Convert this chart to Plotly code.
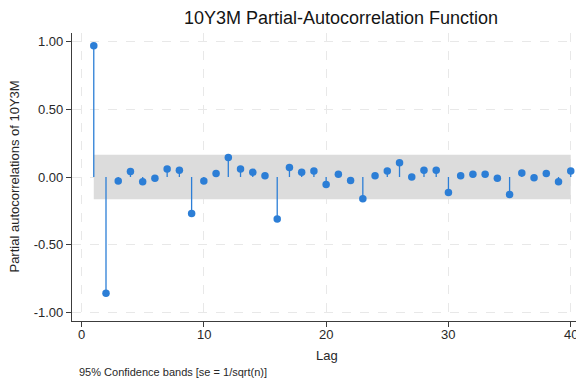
import plotly.graph_objects as go

# Data
lags = list(range(1, 41))
pacf = [0.97, -0.86, -0.03, 0.04, -0.035, -0.01, 0.06, 0.05, -0.27, -0.03,
        0.025, 0.145, 0.06, 0.035, 0.01, -0.31, 0.07, 0.035, 0.045, -0.055,
        0.02, -0.025, -0.16, 0.01, 0.045, 0.105, 0.00, 0.05, 0.05, -0.115,
        0.01, 0.02, 0.02, -0.01, -0.13, 0.03, -0.005, 0.025, -0.035, 0.045]
conf_band = 0.164
x_ticks = [0, 10, 20, 30, 40]
x_ticktext = ["0", "10", "20", "30", "40"]
y_ticks = [-1.0, -0.5, 0.0, 0.5, 1.0]
y_ticktext = ["-1.00", "-0.50", "0.00", "0.50", "1.00"]

blue = "rgb(44,126,214)"
font_family = "Liberation Sans, Arial, sans-serif"

fig = go.Figure()

# Confidence band
fig.add_trace(go.Scatter(x=lags, y=[conf_band] * len(lags), mode="lines",
                         line=dict(width=0, color="rgba(0,0,0,0)"),
                         hoverinfo="skip", showlegend=False))
fig.add_trace(go.Scatter(x=lags, y=[-conf_band] * len(lags), mode="lines",
                         line=dict(width=0, color="rgba(0,0,0,0)"),
                         fill="tonexty", fillcolor="rgb(220,220,220)",
                         hoverinfo="skip", showlegend=False))

# Stems
sx, sy = [], []
for lag, v in zip(lags, pacf):
    sx += [lag, lag, None]
    sy += [0, v, None]
fig.add_trace(go.Scatter(x=sx, y=sy, mode="lines",
                         line=dict(color=blue, width=1.3),
                         hoverinfo="skip", showlegend=False))

# Points
fig.add_trace(go.Scatter(x=lags, y=pacf, mode="markers",
                         marker=dict(color=blue, size=7.5),
                         showlegend=False))

grid = dict(showgrid=True, gridcolor="rgb(232,232,232)", griddash="dash", gridwidth=1)

annotations = [
    dict(text="Partial autocorrelations of 10Y3M", textangle=-90,
         xref="paper", yref="paper", x=-0.116, y=0.5,
         xanchor="center", yanchor="middle", showarrow=False,
         font=dict(size=13)),
    dict(text="Lag", xref="paper", yref="paper", x=0.505, y=-0.12,
         xanchor="center", yanchor="middle", showarrow=False,
         font=dict(size=13)),
    dict(text="95% Confidence bands [se = 1/sqrt(n)]",
         xref="paper", yref="paper", x=0.009, y=-0.177,
         xanchor="left", yanchor="middle", showarrow=False,
         font=dict(size=11)),
]
# x tick labels placed on the x scale
for v, t in zip(x_ticks, x_ticktext):
    annotations.append(dict(text=t, xref="x", yref="paper", x=v, y=-0.048,
                            xanchor="center", yanchor="middle",
                            showarrow=False, font=dict(size=13)))

fig.update_layout(
    width=576, height=383,
    margin=dict(l=72, r=0, t=33, b=62),
    paper_bgcolor="white", plot_bgcolor="white",
    font=dict(family=font_family, color="rgb(40,40,40)", size=13),
    title=dict(text="10Y3M Partial-Autocorrelation Function",
               x=0.592, xref="container", xanchor="center",
               y=0.953, yref="container", yanchor="middle",
               font=dict(size=18, color="rgb(20,20,20)")),
    xaxis=dict(range=[-0.78, 40.43], tickmode="array", tickvals=x_ticks,
               showticklabels=False,
               ticks="outside", ticklen=5, tickcolor="rgb(60,60,60)",
               showline=True, linecolor="rgb(60,60,60)", linewidth=1.2,
               zeroline=False, automargin=False, **grid),
    yaxis=dict(range=[-1.065, 1.065], tickmode="array", tickvals=y_ticks,
               ticktext=y_ticktext, automargin=False,
               ticks="outside", ticklen=5, tickcolor="rgb(60,60,60)",
               showline=True, linecolor="rgb(60,60,60)", linewidth=1.2,
               zeroline=False, tickfont=dict(size=13), **grid),
    annotations=annotations,
)

fig.write_html("out.html")
